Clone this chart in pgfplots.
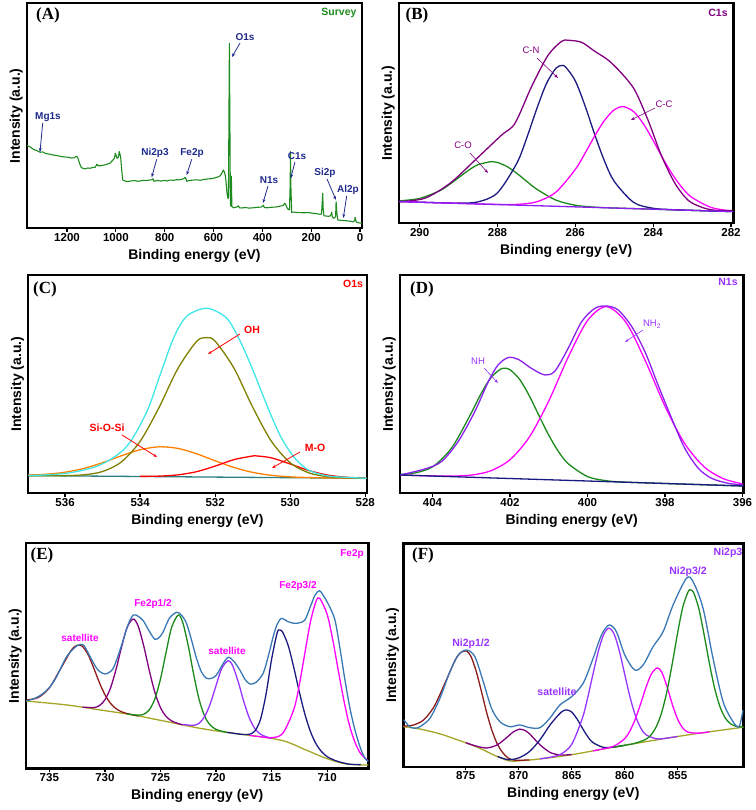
\documentclass[border=0pt]{standalone}
\usepackage{fontspec}
\setmainfont{Liberation Sans}
\newfontfamily\serifb{Liberation Serif}
\usepackage{pgfplots}
\pgfplotsset{compat=1.18}
\usetikzlibrary{arrows.meta}
\definecolor{navyA}{HTML}{1F2A8C}
\definecolor{survey}{HTML}{1E8B1E}
\definecolor{cpurple}{HTML}{800080}
\definecolor{cnavy}{HTML}{1A1A80}
\definecolor{cgreen}{HTML}{1A8A1A}
\definecolor{cmag}{HTML}{FF00FF}
\definecolor{cviolet}{HTML}{8B1EF0}
\definecolor{ccyan}{HTML}{3EE6E6}
\definecolor{colive}{HTML}{7F7F00}
\definecolor{corange}{HTML}{FF8000}
\definecolor{cteal}{HTML}{2A8080}
\definecolor{cblue}{HTML}{3978B5}
\definecolor{cbrown}{HTML}{8B1A1A}
\definecolor{cbase}{HTML}{A5A526}
\definecolor{clabv}{HTML}{9933FF}
\pgfplotsset{
 xps/.style={
  scale only axis, anchor=south west,
  axis line style={line width=2.4pt},
  x dir=reverse, ymin=0,
  ytick=\empty, xtick pos=bottom, tick align=outside,
  major tick length=3.5pt,
  every tick/.style={black, line width=1.2pt},
  xticklabel style={font=\fontsize{11.5}{12}\selectfont\bfseries, inner sep=1.5pt},
  /pgf/number format/assume math mode=true,
  /pgf/number format/1000 sep={},
  xlabel={Binding energy (eV)}, ylabel={Intensity (a.u.)},
  xlabel style={font=\fontsize{14}{16}\selectfont\bfseries, inner sep=2pt, yshift=-4pt},
  every axis y label/.style={at={(axis description cs:0,0.5)}, rotate=90, anchor=south, font=\fontsize{14}{16}\selectfont\bfseries, inner sep=4pt},
  no markers,
 },
 cv/.style={line width=1.3pt, smooth},
}
\tikzset{ann/.style={-{Stealth[length=4pt,width=3pt]}, line width=0.8pt}}
\begin{document}
\begin{tikzpicture}
\path[use as bounding box] (0,0) rectangle (755pt,810pt);
% ---------------- (A) survey
\begin{axis}[xps, at={(27pt,581.7pt)}, width=335pt, height=225pt,
  xmin=-8, xmax=1364, ymax=225, xtick={0,200,...,1200}]
\addplot[survey, line width=1.1pt, line join=round] coordinates {
(1365,83) (1352,81.5) (1338,79) (1325,77.8) (1310,76) (1300,76.5) (1290,75) (1280,74.5) (1269,74) (1255,73.2) (1242,72.8) (1229,72) (1215,71.5) (1205,71.2) (1194,71) (1182,70.2) (1171,70.5) (1165,71.5) (1160,72) (1155,70) (1149,65) (1142,61) (1136,60) (1125,59.5) (1115,60.3) (1106,60) (1095,60.8) (1085,61) (1080,63) (1078,64) (1072,62.5) (1065,62.5) (1050,63.2) (1037,64) (1025,65) (1013,68) (1006,70) (1002,75) (998,72) (995,70) (990,71) (986,76.7) (983,74) (980,70) (976,58) (972,48.3) (965,47.5) (955,46.7) (940,47.2) (925,47.8) (910,47) (901,47.3) (888,48) (875,47.6) (865,48.2) (853,48.5) (848,49.5) (844,47) (830,47.8) (815,47.2) (800,48) (792,47.3) (778,48.2) (764,48) (750,48.6) (740,48.4) (730,49) (722,49.5) (717,51) (712,49) (710,47) (700,47.8) (685,48.2) (670,48.5) (655,48) (640,48.8) (625,49.3) (610,49.6) (601,50) (590,50.8) (580,51.5) (573,52.5) (566,55) (560,58.3) (555,56) (551,51.7) (548,44) (545,35) (541,30) (539,30) (536,150) (535,185) (534,140) (531,25) (529,22) (527,52) (525,22) (519,20.5) (510,21) (502,21.5) (498,22.5) (494,20.5) (485,20.3) (470,20.8) (455,20.2) (437,20.5) (420,21) (405,21.2) (398,22.5) (396,23) (392,20.8) (380,20.5) (365,21) (350,21.2) (341,21.4) (330,22) (320,22.5) (314,23) (309,25) (305,24) (300,21) (295,19) (289,18.5) (286,45) (285,76.7) (283,40) (280,16) (270,16.2) (260,15.8) (246,15.7) (230,15.5) (215,15.7) (205,15.5) (190,15) (175,14.5) (165,14) (158,14.2) (155,25) (153,35) (151,20) (148,12.5) (140,12.3) (130,12) (123,12.2) (118,14) (116,16) (114,12) (109,10) (104,10.5) (100,12) (98,26.7) (95,15) (91,8.3) (80,8) (70,7.8) (55,7.5) (40,7) (27,6.5) (22,8) (20,11) (17,7) (14,6) (5,5.5) (-7,5)
};
\end{axis}
% ---------------- (B) C1s
\begin{axis}[xps, at={(399pt,586.7pt)}, width=334.3pt, height=220pt,
  xmin=281.94, xmax=290.53, ymax=220, xtick={282,284,...,290}]
\addplot[cv, cgreen] coordinates {(290.5,22.52) (290.0,24.87) (289.5,32.27) (289.25,38.37) (289.0,45.57) (288.75,52.79) (288.5,58.58) (288.15,61.73) (288.0,60.87) (287.75,56.67) (287.5,49.89) (287.25,41.98) (287.0,34.36) (286.5,23.23) (286.0,18.04) (285.5,16.14) (285.0,15.26) (284.0,14.09) (283.0,12.92) (282.0,11.76)};
\addplot[cv, cnavy] coordinates {(290.5,21.67) (289.5,20.5) (289.0,20.15) (288.5,21.41) (288.0,30.47) (287.5,60.27) (287.25,85.08) (287.0,113.39) (286.75,139.0) (286.5,155.0) (286.35,157.73) (286.25,156.31) (286.0,142.42) (285.75,117.53) (285.5,88.64) (285.25,62.25) (285.0,41.96) (284.5,20.86) (284.0,15.0) (283.5,13.61) (283.0,12.92) (282.0,11.76)};
\addplot[cv, cmag] coordinates {(290.5,21.67) (289.0,19.92) (288.0,18.85) (287.5,18.91) (287.0,21.39) (286.5,31.09) (286.0,53.86) (285.75,70.06) (285.5,87.37) (285.25,102.89) (285.0,113.47) (284.77,116.69) (284.5,111.59) (284.25,99.44) (284.0,82.84) (283.75,64.95) (283.5,48.56) (283.25,35.32) (283.0,25.76) (282.5,15.72) (282.0,12.4)};
\addplot[cv, cpurple] coordinates {(290.53,21.7) (289.87,25) (289.22,40) (288.58,63) (287.9,88) (287.55,100) (287.12,137) (286.7,168) (286.35,182) (286.18,183) (285.84,181) (285.5,172) (285.15,163) (284.81,150) (284.47,133) (284.13,103) (283.78,67) (283.44,40) (283.1,23) (282.75,16) (282.41,13) (281.98,12.7)};
\addplot[cviolet, line width=1.3pt] coordinates {(290.53,21.7) (281.94,11.7)};
\end{axis}
% ---------------- (C) O1s
\begin{axis}[xps, at={(28.3pt,316.7pt)}, width=338.4pt, height=218.3pt,
  xmin=527.96, xmax=536.98, ymax=218.3, xtick={528,530,...,536}]
\addplot[cteal, line width=1.3pt] coordinates {(536.98,17.7) (527.96,15)};
\addplot[cv, corange] coordinates {(537,18.24) (536.5,19.07) (536,21.08) (535.5,24.87) (535,30.62) (534.5,37.5) (534,43.54) (533.5,46.46) (533,44.95) (532.5,39.61) (532,32.5) (531.5,25.83) (531,20.92) (530.5,17.97) (530,16.44) (529.5,15.73) (529,15.38) (528.5,15.16) (528,15.01)};
\addplot[cv, red] coordinates {(534,16.9) (533.5,17.16) (533,18.37) (532.5,21.56) (532,27.21) (531.5,33.67) (531,37.29) (530.9,37.38) (530.5,35.44) (530,29.34) (529.5,22.72) (529,18.22) (528.5,16.04) (528,15.21)};
\addplot[cv, colive] coordinates {(537,17.71) (536.5,17.59) (536,17.66) (535.5,18.48) (535,21.79) (534.5,31.31) (534,51.92) (533.5,85.43) (533,124.3) (532.5,151.65) (532.24,155.7) (532,152.11) (531.5,125.26) (531,86.21) (530.5,51.99) (530,30.55) (529.5,20.39) (529,16.61) (528.5,15.44) (528,15.06)};
\addplot[cv, ccyan] coordinates {(536.98,17.7) (535.96,20) (535.07,28.3) (534.36,46.7) (533.82,81.7) (533.47,118) (533.11,155) (532.76,177) (532.22,185) (531.69,175) (531.33,152) (530.98,122) (530.62,88) (530.27,58) (529.91,36.7) (529.56,24.3) (529.2,19) (528.84,16.7) (527.96,15)};
\end{axis}
% ---------------- (D) N1s
\begin{axis}[xps, at={(400pt,316.7pt)}, width=343.3pt, height=218.3pt,
  xmin=395.98, xmax=404.84, ymax=218.3, xtick={396,398,...,404}]
\addplot[cv, cgreen] coordinates {(404.84,18.88) (404.5,19.92) (404,26.48) (403.5,45.74) (403,80.39) (402.75,99.53) (402.5,115.3) (402.25,124.05) (402.13,125.02) (402,123.55) (401.75,113.84) (401.5,97.24) (401.25,77.43) (401,58.07) (400.75,41.76) (400.5,29.65) (400,16.7) (399.5,12.48) (399,11.14) (398,9.8) (397,8.56) (396,7.32)};
\addplot[cv, cmag] coordinates {(404.84,18.31) (404.5,17.88) (404,17.37) (403.5,17.2) (403,18.21) (402.5,22.45) (402,33.66) (401.5,56.34) (401,92.37) (400.5,136.0) (400,172.78) (399.51,186.68) (399,170.44) (398.5,131.72) (398,87.0) (397.5,50.18) (397,26.76) (396.5,14.7) (396,9.42)};
\addplot[cv, cviolet] coordinates {(404.84,18.3) (404.2,24.3) (403.77,31.7) (403.34,51.7) (402.91,81.7) (402.56,111.7) (402.31,128.3) (402.05,135.7) (401.79,134) (401.45,125) (401.1,118.3) (400.84,122.3) (400.5,145) (400.15,171.7) (399.81,185) (399.51,187.3) (399.21,183.3) (398.86,166.7) (398.52,141.7) (398.18,108.3) (397.83,75) (397.49,45) (397.14,25) (396.8,15) (396.37,10) (395.98,8.3)};
\addplot[cnavy, line width=1.3pt] coordinates {(404.84,18.3) (395.98,7.3)};
\end{axis}
% ---------------- (E) Fe2p
\begin{axis}[xps, at={(26pt,41.7pt)}, width=342.3pt, height=225pt,
  xmin=706.3, xmax=737.1, ymax=225, xtick={710,715,...,735}]
\addplot[cv, cbase] coordinates {(737.1,67.3) (733.4,63.3) (730.4,58.3) (727.45,53.3) (724.45,46.7) (721.45,40) (718.45,35) (715.45,30.7) (713.7,26.7) (711.9,18.3) (710.1,10) (708.3,4.3) (706.3,3.3)};
\addplot[cv, cbrown] coordinates {(737.1,68.3) (736,70.79) (735,80.47) (734,99.23) (733,118.46) (732.5,123.0) (732.25,123.3) (732,121.85) (731.5,113.43) (731,100.13) (730.5,85.84) (730,73.69) (729.5,65.04) (729,59.64) (728.5,56.54) (728,54.73) (727,52.31)};
\addplot[cv, cpurple] coordinates {(732,61.2) (731,60.69) (730.5,62.68) (730,68.43) (729.5,80.18) (729,98.77) (728.5,121.37) (728,140.96) (727.45,149.3) (727,142.0) (726.5,122.11) (726,97.49) (725.5,75.78) (725,60.7) (724.5,51.97) (724,47.46) (723.5,45.08) (723,43.46)};
\addplot[cv, cgreen] coordinates {(728,54.23) (727,53.12) (726.5,54.09) (726,58.56) (725.5,69.57) (725,89.28) (724.5,115.73) (724,140.75) (723.4,153.26) (723,145.96) (722.5,122.52) (722,93.13) (721.5,67.89) (721,51.59) (720.5,42.95) (720,38.96) (719.5,37.1) (719,35.92)};
\addplot[cv, clabv] coordinates {(723,43.86) (722,42.94) (721.5,45.28) (721,52.25) (720.5,65.15) (720,82.73) (719.5,99.49) (718.91,107.67) (718.5,102.45) (718,86.35) (717.5,66.65) (717,50.15) (716.5,39.6) (716,34.1) (715.5,31.61) (715,29.9)};
\addplot[cv, cnavy] coordinates {(719,35.92) (718,34.36) (717.5,33.82) (717,34.02) (716.5,37.32) (716,48.9) (715.5,74.2) (715,109.12) (714.5,135.38) (714.27,138.3) (714,136.01) (713.5,122.53) (713,100.58) (712.5,76.13) (712,53.9) (711.5,36.53) (711,24.41) (710.5,16.59) (710,11.6) (709.5,8.8) (709,6.72) (708,4.15) (707,3.65)};
\addplot[cv, cmag] coordinates {(717,32.92) (716,31.55) (715,30.59) (714,34.9) (713,58.92) (712.5,83.9) (712,115.65) (711.5,146.76) (711,166.95) (710.67,170.0) (710,153.88) (709.5,128.6) (709,97.81) (708.5,68.08) (708,43.26) (707.5,26.01) (707,14.98) (706.3,7.07)};
\addplot[cv, cblue] coordinates {(737.1,67.3) (736.3,70) (735.54,75) (734.9,82) (734.34,91.7) (733.44,111.7) (732.54,122.3) (731.94,123.3) (731.35,112) (730.8,101) (730.45,96.6) (730.0,94.3) (729.6,96) (729.25,100) (728.8,113) (728.35,128.3) (727.9,144) (727.45,153.3) (727.0,152) (726.55,147.6) (726.0,137) (725.5,129) (725.1,131) (724.75,136.6) (724.2,150) (723.55,156) (723.1,153) (722.66,145) (722.2,128) (721.76,110) (721.3,96) (720.86,90) (720.4,90) (719.96,93.3) (719.4,104) (718.91,111) (718.4,107) (717.86,98.3) (717.4,89) (716.96,84.3) (716.4,86) (715.76,95) (715.3,112) (714.86,131.6) (714.5,144) (714.1,150) (713.6,147) (713.0,145) (712.5,145.5) (712.0,148.3) (711.5,162) (711.1,173) (710.7,177.6) (710.3,172) (709.8,162) (709.3,148.3) (708.85,120) (708.4,88.3) (707.95,60) (707.5,38.3) (707.0,20) (706.6,10) (706.3,7)};
\end{axis}
% ---------------- (F) Ni2p
\begin{axis}[xps, at={(403.3pt,43.3pt)}, width=340pt, height=223.3pt,
  xmin=848.8, xmax=880.9, ymax=223.3, xtick={855,860,...,875}]
\addplot[cv, cbase] coordinates {(880.9,40) (879.33,37.7) (877.5,33) (876.19,28.4) (874.9,23.5) (873.67,18.4) (872.2,11) (870.84,5.7) (869.5,6.3) (868.32,7.4) (865.18,11.7) (862.03,17.7) (858.89,23.4) (855.74,29) (852.6,34) (849.14,39) (848.8,39.5)};
\addplot[cv, cbrown] coordinates {(880.9,40.73) (880,41.5) (879,46.58) (878,59.94) (877,82.74) (876,106.54) (875.5,113.91) (874.93,115.72) (874.5,109.98) (874,94.74) (873.5,74.17) (873,53.01) (872.5,35.23) (872,22.17) (871.5,13.88) (871,8.66) (870.5,6.72) (870,6.38) (869,6.77)};
\addplot[cv, cpurple] coordinates {(875,23.98) (874,20.52) (873,18.75) (872,22.04) (871,30.39) (870.5,34.93) (869.9,37.62) (869.5,36.7) (869,33.08) (868,21.96) (867,14.07) (866,11.65) (865,12.19)};
\addplot[cv, cnavy] coordinates {(872,10.22) (871,7.0) (870,8.8) (869,15.03) (868,26.85) (867,42.39) (866,54.47) (865.49,56.78) (865,54.64) (864.5,47.77) (864,38.7) (863.5,30.25) (863,24.15) (862,19.36) (861,19.75) (860,21.39)};
\addplot[cv, clabv] coordinates {(868,7.84) (867,9.49) (866,12.66) (865,22.35) (864,48.24) (863.5,68.71) (863,92.25) (862.5,114.94) (862,131.81) (861.5,138.56) (861,132.74) (860.5,115.61) (860,92.63) (859.5,69.82) (859,51.44) (858.5,39.03) (858,32.03) (857,27.87) (856,28.64) (855,30.18)};
\addplot[cv, cmag] coordinates {(863,15.85) (862,17.86) (861,20.64) (860,27.99) (859.5,35.81) (859,47.55) (858.5,62.74) (858,78.96) (857.5,92.24) (856.94,98.77) (856.5,94.47) (856,80.02) (855.5,62.21) (855,47.51) (854.5,38.55) (854,34.51) (853,33.56) (852,34.87)};
\addplot[cv, cgreen] coordinates {(861,19.57) (860,21.41) (859,23.48) (858,27.42) (857.5,31.96) (857,40.3) (856.5,54.43) (856,75.76) (855.5,103.52) (855,133.88) (854.5,160.17) (854,175.14) (853.8,176.79) (853.5,174.28) (853,158.15) (852.5,131.99) (852,103.24) (851.5,78.15) (851,59.89) (850.5,48.69) (850,42.88) (849.5,40.49) (849,39.9) (848.8,39.7)};
\addplot[cv, cblue] coordinates {(880.85,47) (880.3,40) (879.8,38.5) (879.33,40) (878.39,48.4) (877.44,68.4) (876.5,95) (875.71,111.7) (874.93,116.7) (874.14,110) (873.35,85) (872.57,58.4) (871.78,45) (870.84,40) (869.9,41.7) (868.95,39) (868.0,39) (867.07,48.4) (866.12,61.7) (865.02,70) (863.92,83.4) (862.98,108.4) (862.19,131.7) (861.47,141.7) (860.78,135) (859.99,111.7) (859.05,96.7) (858.26,101.7) (857.32,120) (856.37,135) (855.43,161.7) (854.17,188.4) (853.54,185) (852.6,158.4) (851.66,108.4) (850.71,65) (849.77,45) (849.2,40) (848.83,56.7)};
\end{axis}
% ---------------- annotations (image pixel coordinates)
\begin{scope}[x=1pt,y=-1pt,shift={(0pt,810pt)}]
\foreach \px/\py/\t in {48/15/A, 417/15/B, 45/289/C, 422/289/D, 42/555/E, 423/555/F}
  \node[font=\serifb\bfseries\fontsize{17}{18}\selectfont] at (\px,\py) {(\t)};
% A
\begin{scope}[navyA, font=\fontsize{10}{11}\selectfont\bfseries]
\node at (48,117) {Mg1s}; \draw[ann] (42.7,123) -- (40,152);
\node at (155,153.3) {Ni2p3}; \draw[ann] (156.7,159.3) -- (151.7,177.3);
\node at (192,153.3) {Fe2p}; \draw[ann] (191.7,159.3) -- (186.7,175);
\node at (245,37) {O1s}; \draw[ann] (240,43) -- (232,57);
\node at (269,180) {N1s}; \draw[ann] (268,186) -- (263,203);
\node at (297,156) {C1s}; \draw[ann] (295,162) -- (290.7,178.3);
\node at (325,173.3) {Si2p}; \draw[ann] (327,179) -- (336,200);
\node at (348,190) {Al2p}; \draw[ann] (346.7,196) -- (343.3,218);
\end{scope}
\node[survey, font=\fontsize{10.5}{11}\selectfont\bfseries, anchor=east] at (360,13) {Survey};
% B
\begin{scope}[cpurple, font=\fontsize{9.5}{10}\selectfont]
\node at (531,50) {C-N}; \draw[ann, line width=0.6pt] (537,58) -- (558,78);
\node at (664,104) {C-C}; \draw[ann, line width=0.6pt] (655,108) -- (631,120);
\node at (463,145) {C-O}; \draw[ann, line width=0.6pt] (470,153) -- (488,173);
\end{scope}
\node[cpurple, font=\fontsize{10.5}{11}\selectfont\bfseries] at (718,13) {C1s};
% C
\begin{scope}[red, font=\fontsize{10.5}{11}\selectfont\bfseries]
\node at (252,330) {OH}; \draw[ann] (240,334) -- (208,354);
\node at (107,428) {Si-O-Si}; \draw[ann] (122,435) -- (157,457);
\node at (315,448) {M-O}; \draw[ann] (300,452) -- (272,468);
\node at (353,284) {O1s};
\end{scope}
% D
\begin{scope}[clabv, font=\fontsize{9.5}{10}\selectfont]
\node at (478,361) {NH}; \draw[ann, line width=0.6pt] (484,368) -- (498,383);
\node at (652,324) {NH\textsubscript{2}}; \draw[ann, line width=0.6pt] (643,330) -- (625,342);
\end{scope}
\node[clabv, font=\fontsize{10.5}{11}\selectfont\bfseries] at (728,282) {N1s};
% E
\begin{scope}[cmag, font=\fontsize{10}{11}\selectfont\bfseries]
\node at (80,638) {satellite};
\node at (153,604) {Fe2p1/2};
\node at (227,651) {satellite};
\node at (298,586) {Fe2p3/2};
\node at (352,554) {Fe2p};
\end{scope}
% F
\begin{scope}[clabv, font=\fontsize{10.5}{11}\selectfont\bfseries]
\node at (471,644) {Ni2p1/2};
\node at (557,692) {satellite};
\node at (688,572) {Ni2p3/2};
\node at (728,553) {Ni2p3};
\end{scope}
\end{scope}
\end{tikzpicture}
\end{document}
